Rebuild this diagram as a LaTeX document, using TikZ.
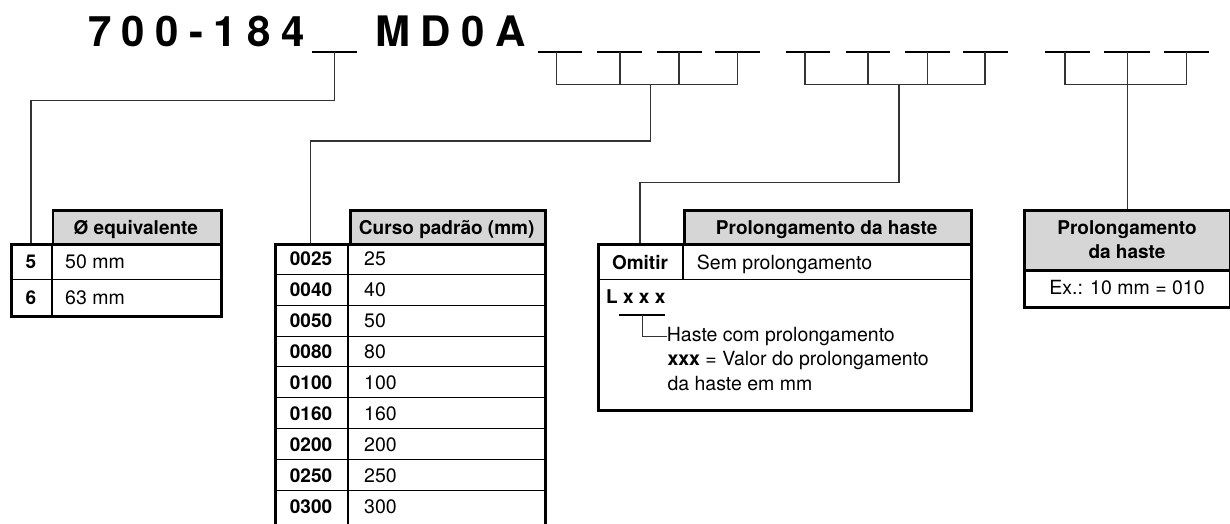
\documentclass[tikz,border=0pt]{standalone}
\usepackage{fontspec}
\setmainfont{TeX Gyre Heros}
\definecolor{hdr}{RGB}{214,214,214}
\newcommand\lsp{\hspace{10.4pt}}
\tikzset{
  conn/.style={line width=1.3pt, draw=black!80},
  uline/.style={line width=2.4pt, draw=black},
  outer/.style={line width=2.5pt, draw=black},
  coldiv/.style={line width=1.9pt, draw=black},
  rowdiv/.style={line width=0.9pt, draw=black},
  hdrbox/.style={outer, fill=hdr, inner sep=0pt, anchor=north west},
  bodybox/.style={outer, fill=white, inner sep=0pt, anchor=north west},
  txt/.style={font=\fontsize{19.5}{23}\selectfont, inner sep=0pt},
  btxt/.style={font=\fontsize{19}{22}\selectfont\bfseries, inner sep=0pt},
  titletxt/.style={font=\fontsize{42}{48}\selectfont\bfseries, inner sep=0pt, anchor=base west},
}
\begin{document}
\begin{tikzpicture}[x=1pt,y=-1pt]
\useasboundingbox (0,0) rectangle (1230,523);

% ---------- title ----------
\node[titletxt] (pn) at (88,46.5) {7\lsp0\lsp0\lsp-\lsp1\lsp8\lsp4};
\node[titletxt] (md) at (375,46.5) {M\lsp D\lsp0\lsp A};

% underscores
\foreach \a/\b in {312/357, 538/582, 597/642, 657/702, 715/760,
                   786/830, 846/890, 905/950, 963/1008,
                   1045/1090, 1104/1150, 1164/1209}
  \draw[uline] (\a,51.7) -- (\b,51.7);

% ---------- coordinates ----------
\coordinate (u0) at (334.5,51.7);
\coordinate (j1) at (31,100.7);
\coordinate (t1a) at (31,243.3);

\coordinate (g1a) at (556.7,51.7);
\coordinate (g1b) at (620,51.7);
\coordinate (g1c) at (679,51.7);
\coordinate (g1d) at (737.5,51.7);
\coordinate (g1m) at (650.7,84.3);
\coordinate (j2) at (310.7,141);
\coordinate (t2a) at (310.7,243.3);

\coordinate (g2a) at (805,51.7);
\coordinate (g2b) at (868,51.7);
\coordinate (g2c) at (927.7,51.7);
\coordinate (g2d) at (985,51.7);
\coordinate (g2m) at (899,84.3);
\coordinate (j3) at (640,182.3);
\coordinate (t3a) at (640,243.3);

\coordinate (g3a) at (1065,51.7);
\coordinate (g3b) at (1127.7,51.7);
\coordinate (g3c) at (1186.7,51.7);
\coordinate (t4a) at (1127.7,209.3);

% ---------- connectors ----------
\draw[conn] (u0) |- (j1) -- (t1a);

\draw[conn] (g1a) |- (g1d |- g1m) -- (g1d);
\draw[conn] (g1b) -- (g1b |- g1m);
\draw[conn] (g1c) -- (g1c |- g1m);
\draw[conn] (g1m) |- (j2) -- (t2a);

\draw[conn] (g2a) |- (g2d |- g2m) -- (g2d);
\draw[conn] (g2b) -- (g2b |- g2m);
\draw[conn] (g2c) -- (g2c |- g2m);
\draw[conn] (g2m) |- (j3) -- (t3a);

\draw[conn] (g3a) |- (g3c |- 0,84.3) -- (g3c);
\draw[conn] (g3b) -- (t4a);

% ---------- table 1 ----------
\node[bodybox, minimum width=210pt, minimum height=72pt] (b1) at (10,243.3) {};
\draw[rowdiv] (10,279.5) -- (220,279.5);
\draw[coldiv] (51.7,243.3) -- (51.7,315.3);
\node[hdrbox, minimum width=168.3pt, minimum height=34pt] (h1) at (51.7,209.3) {};
\node[btxt, anchor=base] (h1t) at (135.8,234) {Ø equivalente};
\node[btxt, anchor=base] (c5) at (30.8,268.5) {5};
\node[txt, anchor=base west] (v5) at (65,268.5) {50 mm};
\node[btxt, anchor=base] (c6) at (30.8,304.5) {6};
\node[txt, anchor=base west] (v6) at (65,304.5) {63 mm};

% ---------- table 2 ----------
\node[bodybox, minimum width=270pt, minimum height=300pt] (b2) at (274,243.3) {};
\foreach \i in {1,...,8}
  \draw[rowdiv] (274,243.3+30.9*\i) -- (544,243.3+30.9*\i);
\draw[coldiv] (348.3,243.3) -- (348.3,540);
\node[hdrbox, minimum width=194.7pt, minimum height=34pt] (h2) at (349.3,209.3) {};
\node[btxt, anchor=base] (h2t) at (446.7,234) {Curso padrão (mm)};
\foreach \c/\v [count=\i from 0] in {0025/25,0040/40,0050/50,0080/80,0100/100,0160/160,0200/200,0250/250,0300/300} {
  \node[btxt, anchor=base] (c\c) at (311,243.3+30.9*\i+22.5) {\c};
  \node[txt, anchor=base west] (v\c) at (364,243.3+30.9*\i+22.5) {\v};
}

% ---------- table 3 ----------
\node[bodybox, minimum width=372.7pt, minimum height=166pt] (b3) at (597.3,243.3) {};
\draw[rowdiv] (597.3,279.3) -- (970,279.3);
\draw[coldiv] (683.3,243.3) -- (683.3,279.3);
\node[hdrbox, minimum width=286.7pt, minimum height=34pt] (h3) at (683.3,209.3) {};
\node[btxt, anchor=base] (h3t) at (826.7,234) {Prolongamento da haste};
\node[btxt, anchor=base] (om) at (640,269.5) {Omitir};
\node[txt, anchor=base west] (sp) at (696.7,269.5) {Sem prolongamento};
\node[btxt, anchor=base west] (lx) at (606,303.3) {L x x x};
\coordinate (lxa) at (619.3,315);
\coordinate (lxb) at (665,315);
\draw[line width=1.8pt] (lxa) -- (lxb);
\coordinate (lxm) at (642.7,315);
\node[txt, anchor=base west] (hl1) at (666.7,341.7) {Haste com prolongamento};
\node[txt, anchor=base west] (hl2) at (667.3,365.7) {\textbf{xxx} = Valor do prolongamento};
\node[txt, anchor=base west] (hl3) at (667.3,390) {da haste em mm};
\draw[conn] (lxm) |- (hl1.west);

% ---------- table 4 ----------
\node[bodybox, minimum width=206pt, minimum height=36.7pt] (b4) at (1023.3,269.3) {};
\node[hdrbox, minimum width=206pt, minimum height=60pt] (h4) at (1023.3,209.3) {};
\node[btxt, anchor=base] (h4t1) at (1127,234.3) {Prolongamento};
\node[btxt, anchor=base] (h4t2) at (1127,258.3) {da haste};
\node[txt, anchor=base] (ex) at (1127,294.5) {Ex.: 10 mm = 010};
\end{tikzpicture}
\end{document}
